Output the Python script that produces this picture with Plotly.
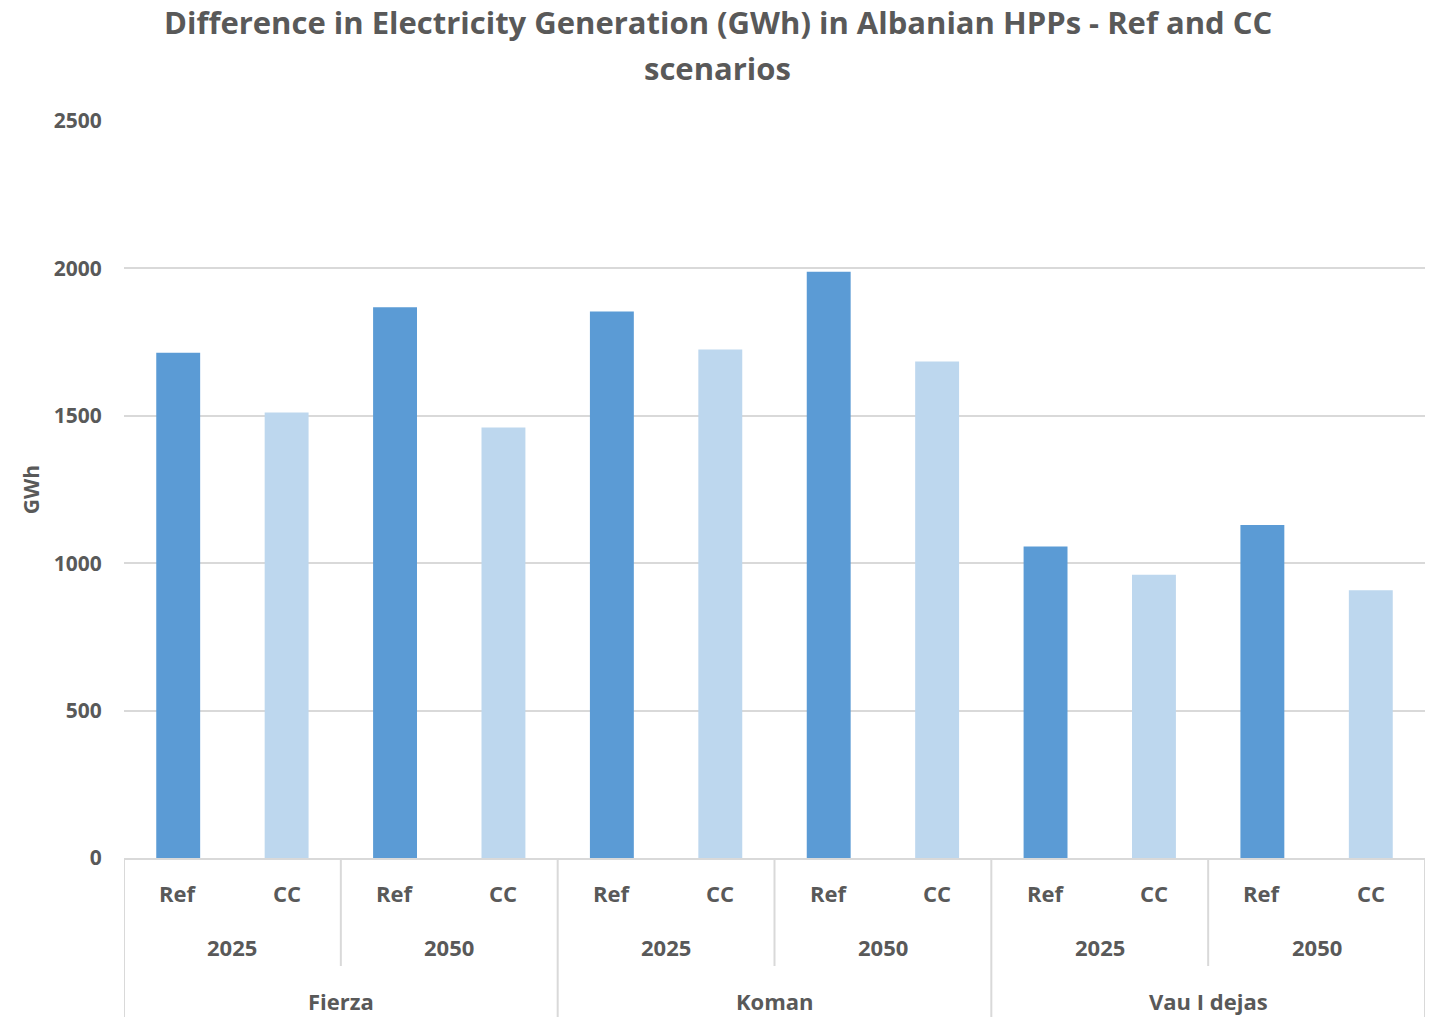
import plotly.graph_objects as go

# Generation (GWh) per HPP, year and scenario
stations = ["Fierza", "Koman", "Vau I dejas"]
years = ["2025", "2050"]
scenarios = ["Ref", "CC"]

fierza = [1714, 1511, 1868, 1460]
koman = [1854, 1725, 1989, 1684]
vau_i_dejas = [1057, 961, 1130, 908]

y_ticks = [0, 500, 1000, 1500, 2000, 2500]

title_lines = ["Difference in Electricity Generation (GWh) in Albanian HPPs - Ref and CC",
               "scenarios"]

REF_COLOR = "#5B9BD5"
CC_COLOR = "#BDD7EE"
TEXT = "#595959"
GRID = "#D9D9D9"
FONT = "Open Sans"

W, H = 1435, 1017
M_L, M_R, M_T, M_B = 124, 10, 121, 159
PLOT_W = W - M_L - M_R
PLOT_H = H - M_T - M_B


def py(pixel_below_axis):
    """Convert a pixel offset below the x axis into paper y."""
    return -pixel_below_axis / PLOT_H


values = fierza + koman + vau_i_dejas
x_pos = list(range(len(values)))
labels = [s for _ in stations for _ in years for s in scenarios]
colors = [REF_COLOR if s == "Ref" else CC_COLOR for s in labels]

fig = go.Figure()
fig.add_trace(go.Bar(
    x=x_pos, y=values, width=0.405,
    marker=dict(color=colors, line=dict(width=0)),
    hovertext=labels, showlegend=False,
))

annotations = []
shapes = []
lab_font = dict(family=FONT, size=22, color=TEXT)

# two-line chart title, centred on the page
title_x = (W / 2 - M_L) / PLOT_W
for n, line in enumerate(title_lines):
    annotations.append(dict(x=title_x, y=1 + (M_T - (22 + 46 * n)) / PLOT_H,
                            xref="paper", yref="paper",
                            text=f"<b>{line}</b>", showarrow=False,
                            font=dict(family=FONT, size=31, color=TEXT),
                            xanchor="center", yanchor="middle"))

# scenario labels
for i, lab in enumerate(labels):
    annotations.append(dict(x=i, y=py(35), xref="x", yref="paper", text=f"<b>{lab}</b>",
                            showarrow=False, font=lab_font, xanchor="center", yanchor="middle"))
# year labels
for j in range(len(stations) * len(years)):
    annotations.append(dict(x=2 * j + 0.5, y=py(89), xref="x", yref="paper",
                            text=f"<b>{years[j % 2]}</b>", showarrow=False, font=lab_font,
                            xanchor="center", yanchor="middle"))
    if j % 2 == 1:
        continue
    # divider between the two years of one station
    shapes.append(dict(type="line", xref="x", yref="paper", x0=2 * j + 1.5, x1=2 * j + 1.5,
                       y0=0, y1=py(108), line=dict(color=GRID, width=2)))
# station labels and dividers
for k, st in enumerate(stations):
    annotations.append(dict(x=4 * k + 1.5, y=py(143), xref="x", yref="paper",
                            text=f"<b>{st}</b>", showarrow=False, font=lab_font,
                            xanchor="center", yanchor="middle"))
for b in [-0.5, 3.5, 7.5, 11.5]:
    shapes.append(dict(type="line", xref="x", yref="paper", x0=b, x1=b,
                       y0=0, y1=py(M_B + 2), line=dict(color=GRID, width=2)))

fig.update_layout(
    width=W, height=H,
    margin=dict(l=M_L, r=M_R, t=M_T, b=M_B, pad=0),
    paper_bgcolor="white", plot_bgcolor="white",
    xaxis=dict(range=[-0.5, 11.5], showticklabels=False, showgrid=False, zeroline=False,
               showline=True, linecolor=GRID, linewidth=2, ticks=""),
    yaxis=dict(range=[0, 2500], tickvals=y_ticks, ticktext=[f"<b>{v}</b>" for v in y_ticks],
               showgrid=True, gridcolor=GRID, gridwidth=2, zeroline=False, showline=False,
               ticks="outside", ticklen=17, tickcolor="white",
               tickfont=dict(family=FONT, size=21, color=TEXT),
               title=dict(text="<b>GWh</b>", font=dict(family=FONT, size=21, color=TEXT),
                          standoff=8)),
    annotations=annotations, shapes=shapes,
    bargap=0.6,
)

fig.write_html("out.html")
